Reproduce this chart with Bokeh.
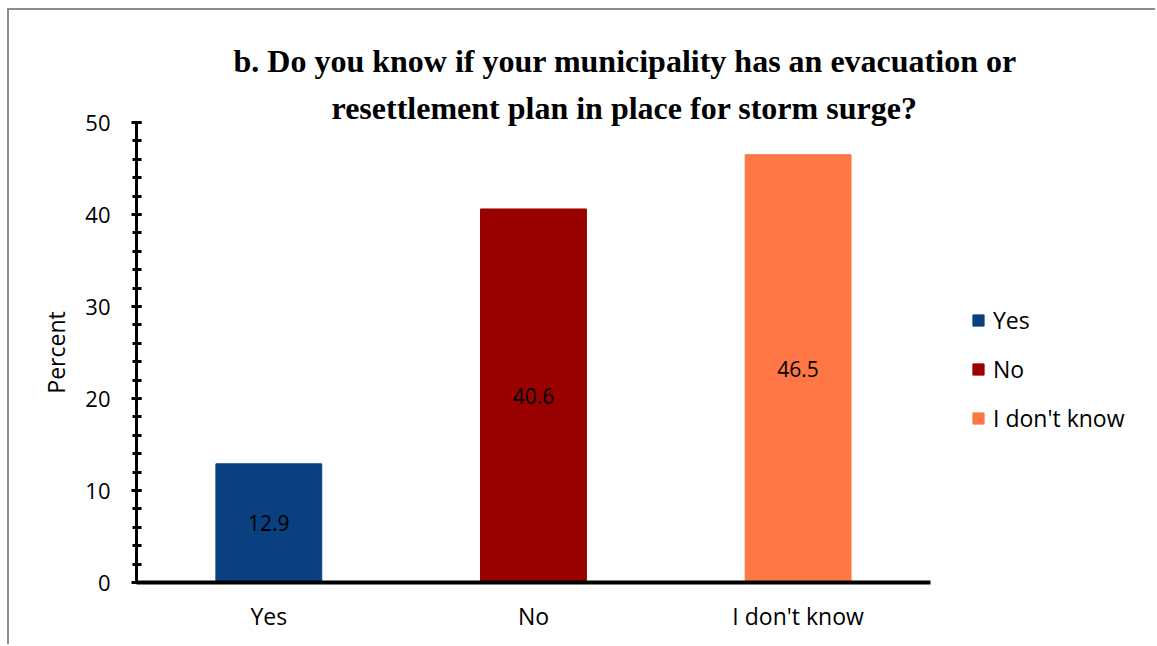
from bokeh.plotting import figure
from bokeh.models import ColumnDataSource, Title, SingleIntervalTicker, FixedTicker, Range1d
from bokeh.core.properties import value
from bokeh.embed import file_html
from bokeh.resources import INLINE

categories = ["Yes", "No", "I don't know"]
percent = [12.9, 40.6, 46.5]
colors = ["#0B4080", "#990000", "#FF7744"]
title_line1 = "b. Do you know if your municipality has an evacuation or"
title_line2 = "resettlement plan in place for storm surge?"
y_label = "Percent"

n = len(categories)
xs = [i + 0.5 for i in range(n)]
src = ColumnDataSource(dict(
    x=xs, cat=categories, val=percent, color=colors,
    mid=[v / 2 for v in percent],
    txt=[f"{v:.1f}" for v in percent],
))

p = figure(width=1148, height=636, x_range=Range1d(0, 3.858), y_range=(0, 50),
           output_backend="svg", toolbar_location=None,
           min_border_left=127, min_border_right=0, min_border_top=112, min_border_bottom=64)
p.styles = {"margin-left": "7px", "margin-top": "8px",
            "border-top": "2px solid #8C8C8C", "border-left": "2px solid #8C8C8C"}
p.xgrid.grid_line_color = None
p.ygrid.grid_line_color = None
p.outline_line_color = None

FONT = "Open Sans"
p.vbar(x="x", top="val", width=0.4, color="color", source=src, legend_field="cat")
p.text(x="x", y="mid", text="txt", source=src, text_align="center", text_baseline="middle",
       text_font=value(FONT), text_font_size="21px", text_color="#000000")

ya = p.yaxis[0]
ya.ticker = SingleIntervalTicker(interval=10, num_minor_ticks=5)
ya.axis_line_width = 3
ya.axis_line_color = "#000000"
ya.major_tick_in = 5
ya.major_tick_out = 5
ya.minor_tick_in = 5
ya.minor_tick_out = 4
ya.major_tick_line_width = 3
ya.minor_tick_line_width = 3
ya.major_tick_line_color = "#000000"
ya.minor_tick_line_color = "#000000"
ya.major_label_text_font = FONT
ya.major_label_text_font_size = "22px"
ya.major_label_text_color = "#000000"
ya.major_label_standoff = 21
ya.axis_label = y_label
ya.axis_label_text_font = FONT
ya.axis_label_text_font_size = "23px"
ya.axis_label_text_font_style = "normal"
ya.axis_label_text_color = "#000000"
ya.axis_label_standoff = 10

xa = p.xaxis[0]
xa.ticker = FixedTicker(ticks=xs, minor_ticks=[])
xa.major_label_overrides = {x: c for x, c in zip(xs, categories)}
xa.bounds = (0, n)
xa.axis_line_width = 4
xa.axis_line_color = "#000000"
xa.major_tick_line_color = None
xa.minor_tick_line_color = None
xa.major_label_text_font = FONT
xa.major_label_text_font_size = "23px"
xa.major_label_text_color = "#000000"
xa.major_label_standoff = 11

legend = p.legend[0]
legend.location = (835, 148)
legend.padding = 0
legend.margin = 0
legend.border_line_alpha = 0
legend.background_fill_alpha = 0
legend.glyph_width = 14
legend.glyph_height = 14
legend.label_height = 20
legend.spacing = 17
legend.label_standoff = 8
legend.label_text_font = FONT
legend.label_text_font_size = "23px"
legend.label_text_color = "#000000"

p.add_layout(Title(text=title_line2, align="left", offset=195, standoff=-6,
                   text_font="Liberation Serif", text_font_style="bold",
                   text_font_size="32px", text_color="#000000"), "above")
p.add_layout(Title(text=title_line1, align="left", offset=97, standoff=24,
                   text_font="Liberation Serif", text_font_style="bold",
                   text_font_size="32px", text_color="#000000"), "above")

open("out.html", "w").write(file_html(p, INLINE))
